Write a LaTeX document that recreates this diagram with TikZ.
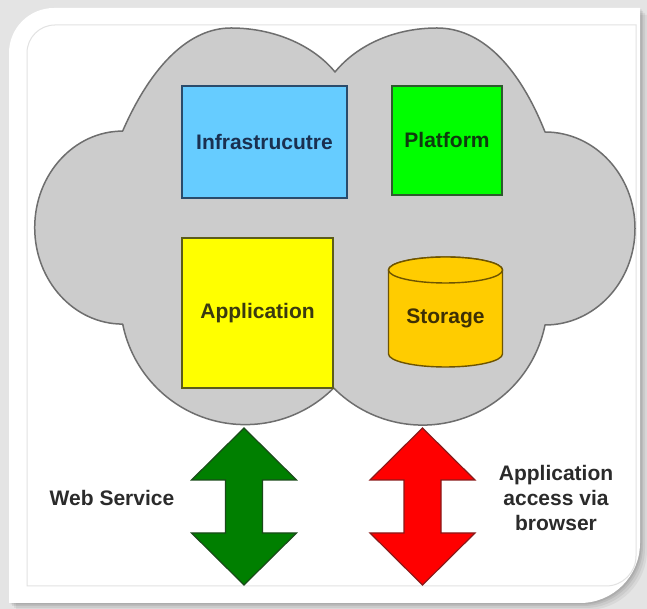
\documentclass[tikz,border=0pt]{standalone}
\usepackage{fontspec}
\setmainfont{Liberation Sans}
\begin{document}
\begin{tikzpicture}[x=1pt,y=1pt,
  lbl/.style={font=\fontsize{21}{25}\selectfont\bfseries},
  boxnode/.style={draw,line width=1.4pt,lbl,inner sep=0pt,anchor=center},
  bigarrow/.style={line width=1.2pt,line join=miter}]
\definecolor{bgcol}{HTML}{E4E4E4}
\definecolor{cloudfill}{HTML}{CCCCCC}
\definecolor{cloudline}{HTML}{6E6E6E}
\definecolor{infofill}{HTML}{66CCFF}
\definecolor{infoline}{HTML}{2A4B6B}
\definecolor{infotext}{HTML}{1A3050}
\definecolor{platfill}{HTML}{00FF00}
\definecolor{platline}{HTML}{2D5A2D}
\definecolor{plattext}{HTML}{0F3B0F}
\definecolor{appfill}{HTML}{FFFF00}
\definecolor{appline}{HTML}{5C5C1A}
\definecolor{apptext}{HTML}{3A3A10}
\definecolor{storfill}{HTML}{FFCC00}
\definecolor{storline}{HTML}{6E5400}
\definecolor{stortext}{HTML}{3D2F05}
\definecolor{garrow}{HTML}{007F00}
\definecolor{garrowline}{HTML}{1A4A1A}
\definecolor{rarrow}{HTML}{FF0000}
\definecolor{rarrowline}{HTML}{8A1A1A}
\definecolor{labtext}{HTML}{2B2B2B}
\definecolor{framecol}{HTML}{E2E2E2}
\useasboundingbox (0,0) rectangle (647,609);
% background
\fill[bgcol] (0,0) rectangle (647,609);
% soft shadow
\foreach \d/\o in {7/0.05,5/0.06,3/0.07,1.5/0.08}{
  \fill[black,opacity=\o] (9+\d,6-\d) -- (580+\d,6-\d) arc[start angle=-90,end angle=0,radius=60] -- (640+\d,601-\d) -- (54+\d,601-\d) arc[start angle=90,end angle=180,radius=45] -- cycle;
}
% white panel
\fill[white] (9,6) -- (580,6) arc[start angle=-90,end angle=0,radius=60] -- (640,601) -- (54,601) arc[start angle=90,end angle=180,radius=45] -- cycle;
% inner thin frame
\draw[framecol,line width=1pt] (27,23) -- (606,23) arc[start angle=-90,end angle=0,radius=30] -- (636,584) -- (55,584) arc[start angle=90,end angle=180,radius=28] -- cycle;
% cloud
\draw[fill=cloudfill,draw=cloudline,line width=1.5pt,line join=round]
  (122.65,477.94) .. controls (152,545) and (190,581) .. (231,581)
  .. controls (272,581) and (312,565) .. (335,537)
  .. controls (358,565) and (396,581) .. (437,581)
  .. controls (480,581) and (518,545) .. (545,477)
  arc[start angle=90,end angle=-90,x radius=90,y radius=96.5]
  arc[start angle=-11.5,end angle=-135.3,radius=125]
  arc[start angle=-45,end angle=-168.7,radius=125]
  arc[start angle=-90,end angle=-270,x radius=88,y radius=96.5]
  -- cycle;
% boxes
\node[boxnode,fill=infofill,draw=infoline,text=infotext,minimum width=165,minimum height=112] (infra) at (264.5,467) {Infrastrucutre};
\node[boxnode,fill=platfill,draw=platline,text=plattext,minimum width=110,minimum height=109] (plat) at (447,468.5) {Platform};
\node[boxnode,fill=appfill,draw=appline,text=apptext,minimum width=151,minimum height=150] (app) at (257.5,296) {Application};
% storage cylinder
\draw[fill=storfill,draw=storline,line width=1.4pt]
  (388.5,339) -- (388.5,255) arc[start angle=180,end angle=360,x radius=57,y radius=13]
  -- (502.5,339) arc[start angle=0,end angle=180,x radius=57,y radius=13] -- cycle;
\draw[fill=storfill,draw=storline,line width=1.4pt] (445.5,339) ellipse[x radius=57,y radius=13];
\node[lbl,text=stortext] (stor) at (445.5,291) {Storage};
% arrows
\draw[bigarrow,fill=garrow,draw=garrowline]
  (244,181) -- (296.5,129) -- (262.5,129) -- (262.5,76) -- (296.5,76) -- (244,24)
  -- (191.5,76) -- (225.5,76) -- (225.5,129) -- (191.5,129) -- cycle;
\draw[bigarrow,fill=rarrow,draw=rarrowline]
  (422.5,181) -- (475,129) -- (441,129) -- (441,76) -- (475,76) -- (422.5,24)
  -- (370,76) -- (404,76) -- (404,129) -- (370,129) -- cycle;
% labels
\node[lbl,text=labtext] (ws) at (112,111) {Web Service};
\node[lbl,text=labtext,align=center] (aab) at (556,111) {Application\\access via\\browser};
\end{tikzpicture}
\end{document}
